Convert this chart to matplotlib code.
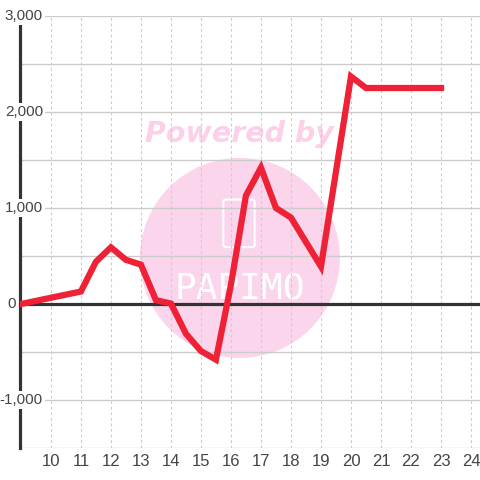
import matplotlib
matplotlib.use('Agg')
import matplotlib.pyplot as plt
from matplotlib.patches import Ellipse, FancyBboxPatch
from matplotlib.transforms import blended_transform_factory, ScaledTranslation

x_vals = [9, 11, 11.5, 12, 12.5, 13, 13.5, 14, 14.5, 15, 15.5, 16, 16.5, 17, 17.5, 18, 19, 20, 20.5, 23]
y_vals = [0, 130, 440, 590, 460, 410, 40, 5, -310, -490, -580, 200, 1130, 1420, 1000, 900, 390, 2370, 2250, 2250]
x_ticks = list(range(10, 25))
y_ticks = [-1000, 0, 1000, 2000, 3000]

plt.rcParams['font.family'] = ['Liberation Sans', 'DejaVu Sans']

fig = plt.figure(figsize=(4.8, 4.8), dpi=100)
fig.patch.set_facecolor('white')
ax = fig.add_axes([20/480, 32/480, 460/480, 432/480])
ax.set_facecolor('white')

# watermark
circ = Ellipse((0.478, 0.44), 200/460, 200/432, transform=ax.transAxes,
               facecolor='#fbd5eb', edgecolor='none', zorder=0.5)
ax.add_patch(circ)
ax.add_patch(FancyBboxPatch((0.447, 0.47), 0.058, 0.10, boxstyle='round,pad=0.005',
                            transform=ax.transAxes, facecolor='none',
                            edgecolor='white', lw=1.5, zorder=0.6))
ax.text(0.478, 0.37, 'PAPIMO', transform=ax.transAxes, ha='center', va='center',
        color='white', fontsize=26, family='DejaVu Sans Mono', zorder=0.6)
ax.text(0.478, 0.728, 'Powered by', transform=ax.transAxes, ha='center', va='center',
        color='#fbd0e8', fontsize=20.5, fontweight='bold', style='italic',
        family='DejaVu Sans', zorder=0.6)

# grid
for yv in range(-1500, 3001, 500):
    ax.axhline(yv, color='#cccccc', lw=1, zorder=1)
for xv in x_ticks:
    ax.axvline(xv, color='#cccccc', lw=0.8, ls=(0, (2.5, 2.5)), zorder=1)

ax.axhline(0, color='#333333', lw=2.3, zorder=2)

ax.plot(x_vals, y_vals, color='#ee2136', lw=4.5, solid_joinstyle='miter', zorder=3)

ax.set_xlim(8.97, 24.3)
ax.set_ylim(-1500, 3000)
ax.set_xticks(x_ticks)
ax.set_yticks([])

for s in ['top', 'right', 'bottom']:
    ax.spines[s].set_visible(False)
ax.spines['left'].set_color('#333333')
ax.spines['left'].set_linewidth(2.3)

ax.tick_params(axis='x', length=0, labelsize=12, labelcolor='#444444', pad=4)

# y labels drawn by hand: zero sits left of the axis, others overlap it
trans = blended_transform_factory(ax.transAxes, ax.transData)
for v in y_ticks:
    dx = -4 if v == 0 else 23
    t = ax.text(0, v, f'{v:,}', ha='right', va='center', fontsize=11, color='#444444',
                transform=trans + ScaledTranslation(dx / 100, 0, fig.dpi_scale_trans),
                zorder=5, clip_on=False)
    if v != 0:
        t.set_bbox(dict(facecolor='white', edgecolor='none', pad=1.5))

fig.savefig('out.png', dpi=100)
